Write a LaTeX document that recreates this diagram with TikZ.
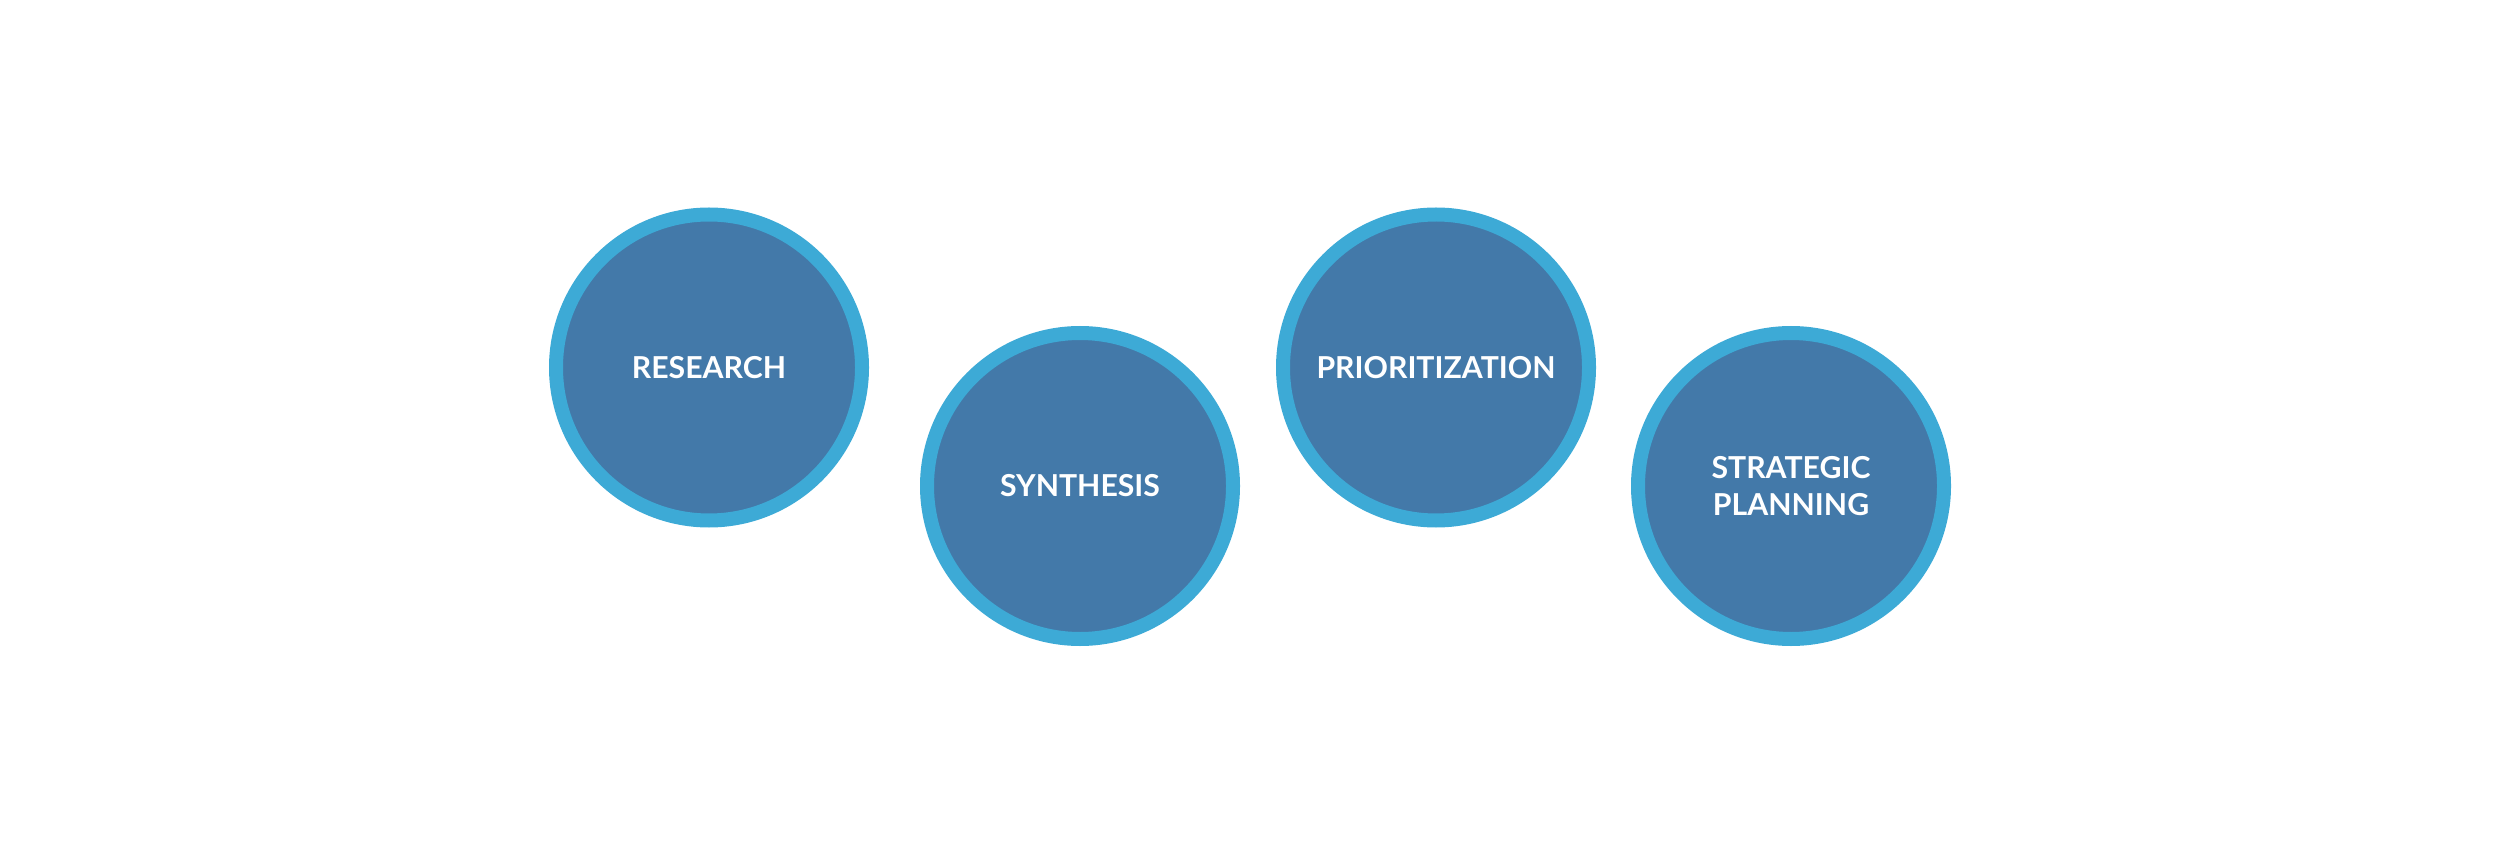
\documentclass[tikz,border=0pt]{standalone}
\usepackage{fontspec}
\setmainfont{Lato}
\usepackage{xcolor}
\usepackage{tikz}
\definecolor{Ring}{HTML}{3DAAD6}
\definecolor{Fuellung}{HTML}{4379A9}
\tikzset{
  Kreis/.style={circle, draw=Ring, fill=Fuellung, line width=1.4mm,
    minimum size=30.6mm, inner sep=0pt, text=white, align=center,
    font=\bfseries\fontsize{8.6}{10.5}\selectfont} % für Kreise
}

\begin{document}
\begin{tikzpicture}[x=1cm,y=1cm]
\useasboundingbox (0,0) rectangle (25,8.54);

%Kreise
\node[Kreis] (Research) at (7.09,4.865) {RESEARCH};
\node[Kreis] (Synthesis) at (10.80,3.68) {SYNTHESIS};
\node[Kreis] (Prio) at (14.36,4.865) {PRIORITIZATION};
\node[Kreis] (Strategie) at (17.91,3.68) {STRATEGIC\\PLANNING};

\end{tikzpicture}
\end{document}
